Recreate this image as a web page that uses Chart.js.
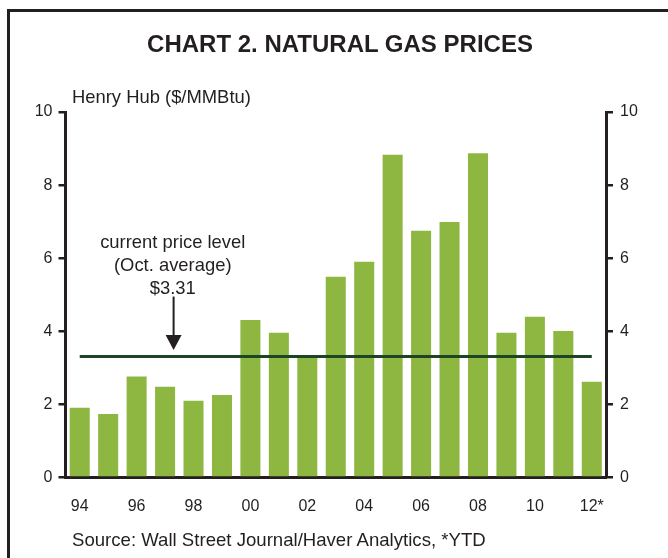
<!DOCTYPE html>
<html>
<head>
<meta charset="utf-8">
<script src="https://cdn.jsdelivr.net/npm/chart.js@4.4.0/dist/chart.umd.min.js"></script>
<style>
  html, body { margin: 0; padding: 0; background: #fff; overflow: hidden; }
  body { width: 668px; height: 558px; position: relative; font-family: "Liberation Sans", Arial, sans-serif; color: #231f20; }
  #frame { position: absolute; left: 7px; top: 9px; width: 720px; height: 620px; border-left: 3px solid #231f20; border-top: 3px solid #231f20; }
  #title { position: absolute; left: 0; width: 680px; top: 32px; text-align: center; font-weight: bold; font-size: 24px; line-height: 24px; }
  #unit { position: absolute; left: 72px; top: 88px; font-size: 18.4px; line-height: 18px; }
  #source { position: absolute; left: 72px; top: 531px; font-size: 18.6px; line-height: 18px; }
  #wrap { position: absolute; left: 0; top: 0; width: 668px; height: 558px; }
</style>
</head>
<body>
<div id="frame"></div>
<div id="wrap"><canvas id="chart"></canvas></div>
<div id="title">CHART 2. NATURAL GAS PRICES</div>
<div id="unit">Henry Hub ($/MMBtu)</div>
<div id="source">Source: Wall Street Journal/Haver Analytics, *YTD</div>
<script>
const years = ["94", "95", "96", "97", "98", "99", "00", "01", "02", "03",
  "04", "05", "06", "07", "08", "09", "10", "11", "12*"];
const prices = [1.91, 1.74, 2.76, 2.48, 2.10, 2.26, 4.31, 3.96, 3.35, 5.49,
  5.90, 8.83, 6.75, 6.99, 8.87, 3.96, 4.40, 4.01, 2.62];
const currentLevel = 3.31;
const levelLine = years.map(() => currentLevel);
const noteLines = ["current price level", "(Oct. average)", "$3.31"];
const yTicks = [0, 2, 4, 6, 8, 10];

// where the note and arrow sit, in axis units
const noteX = 3.27;
const noteY = [6.29, 5.64, 5.01];
const arrowX = 3.3;
const arrowFrom = 4.95;
const arrowTo = 3.49;

const ink = "#231f20";

const notePlugin = {
  id: "note",
  afterDatasetsDraw(chart) {
    const ctx = chart.ctx;
    const x = chart.scales.x;
    const y = chart.scales.y;
    ctx.save();
    ctx.fillStyle = ink;
    ctx.font = "18.4px 'Liberation Sans', Arial, sans-serif";
    ctx.textAlign = "center";
    ctx.textBaseline = "alphabetic";
    for (let i = 0; i < noteLines.length; i++) {
      ctx.fillText(noteLines[i], x.getPixelForValue(noteX), y.getPixelForValue(noteY[i]));
    }
    const ax = x.getPixelForValue(arrowX);
    const top = y.getPixelForValue(arrowFrom);
    const tip = y.getPixelForValue(arrowTo);
    ctx.strokeStyle = ink;
    ctx.lineWidth = 2;
    ctx.beginPath();
    ctx.moveTo(ax, top);
    ctx.lineTo(ax, tip - 12);
    ctx.stroke();
    ctx.beginPath();
    ctx.moveTo(ax - 8, tip - 15);
    ctx.lineTo(ax + 8, tip - 15);
    ctx.lineTo(ax, tip);
    ctx.closePath();
    ctx.fill();
    ctx.restore();
  }
};

const tickFont = { family: "'Liberation Sans', Arial, sans-serif", size: 16 };

new Chart(document.getElementById("chart"), {
  data: {
    labels: years,
    datasets: [
      {
        type: "line",
        data: levelLine,
        borderColor: "#1e4428",
        borderWidth: 3,
        pointRadius: 0,
        fill: false,
        order: 0,
      },
      {
        type: "bar",
        data: prices,
        backgroundColor: "#8eb741",
        barPercentage: 0.8,
        categoryPercentage: 0.88,
        order: 1,
      },
    ],
  },
  options: {
    responsive: true,
    maintainAspectRatio: false,
    animation: false,
    layout: { padding: { top: 112, left: 0, right: 0, bottom: 0 } },
    plugins: { legend: { display: false }, tooltip: { enabled: false } },
    scales: {
      x: {
        afterFit: (s) => { s.height = 80.5; },
        grid: { display: false, drawTicks: false },
        border: { display: true, color: ink, width: 3 },
        ticks: {
          autoSkip: false,
          maxRotation: 0,
          padding: 19,
          color: ink,
          font: tickFont,
          callback: function (v, i) { return i % 2 === 0 ? years[i] : ""; },
        },
      },
      y: {
        position: "left",
        min: 0,
        max: 10,
        afterFit: (s) => { s.width = 65.5; },
        afterBuildTicks: (s) => { s.ticks = yTicks.map((v) => ({ value: v })); },
        grid: { drawOnChartArea: false, drawTicks: true, tickLength: 7, color: ink, lineWidth: 2.5 },
        border: { display: true, color: ink, width: 3 },
        ticks: { padding: 6, color: ink, font: tickFont },
      },
      y2: {
        position: "right",
        min: 0,
        max: 10,
        afterFit: (s) => { s.width = 62; },
        afterBuildTicks: (s) => { s.ticks = yTicks.map((v) => ({ value: v })); },
        grid: { drawOnChartArea: false, drawTicks: true, tickLength: 7, color: ink, lineWidth: 2.5 },
        border: { display: true, color: ink, width: 3 },
        ticks: { padding: 7, color: ink, font: tickFont },
      },
    },
  },
  plugins: [notePlugin],
});
</script>
</body>
</html>
